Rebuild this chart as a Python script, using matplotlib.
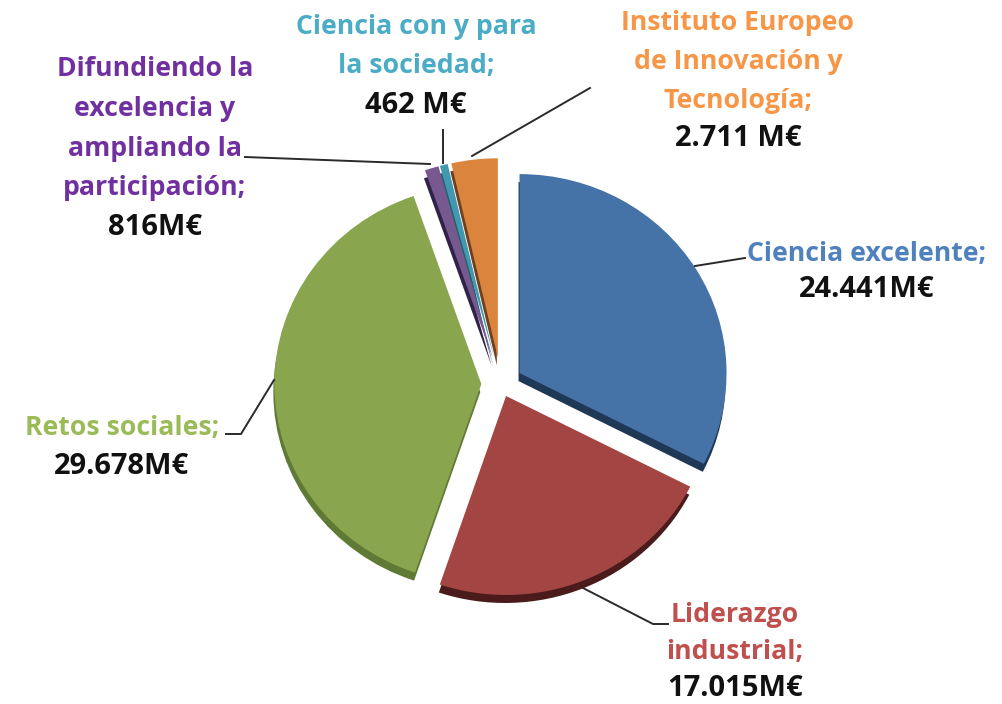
import matplotlib
matplotlib.use("Agg")
import matplotlib.pyplot as plt

names = ["Ciencia excelente", "Liderazgo industrial", "Retos sociales",
         "Difundiendo la excelencia", "Ciencia con y para la sociedad", "Instituto Europeo"]
values = [24441, 17015, 29678, 816, 462, 2711]
top_colors = ["#4572A7", "#A34543", "#89A54E", "#77598F", "#4198AF", "#DB843D"]
side_colors = ["#1F3855", "#4A1B1A", "#5F7A35", "#30234A", "#26606F", "#6E4020"]

W, H = 1003, 704
CX, CY, RX, RY = 501, 384, 207, 199

fig = plt.figure(figsize=(W / 100, H / 100), dpi=100, facecolor="white")
ax = fig.add_axes([0, 0, 1, 1])
explode = [0.105, 0.065, 0.095, 0.135, 0.135, 0.135]
shadow_center = (-1 / RX, -8 / RY)
ax.pie(values, startangle=90, counterclock=False, explode=explode,
       colors=side_colors, center=shadow_center, wedgeprops=dict(linewidth=0))
ax.pie(values, startangle=90, counterclock=False, explode=explode,
       colors=top_colors, center=(0, 0), wedgeprops=dict(linewidth=0))
ax.set_aspect("auto")
ax.set_xlim(-CX / RX, (W - CX) / RX)
ax.set_ylim((CY - H) / RY, CY / RY)
ax.axis("off")


def label(x, y, lines, step=39):
    for i, (txt, col) in enumerate(lines):
        size = 21 if col == K else 19.2
        fig.text(x / W, 1 - (y + 2.5 + i * step) / H, txt, color=col, ha="center", va="center",
                 fontsize=size, fontweight="bold", family="Open Sans")


def leader(xs, ys):
    fig.add_artist(plt.Line2D([x / W for x in xs], [1 - y / H for y in ys],
                              color="#2A2A2A", lw=1.4))


blue, purple, teal, orange, green, red = "#4F81BD", "#7030A0", "#4BACC6", "#F79646", "#9BBB59", "#C0504D"
K = "#111111"
label(867, 251, [("Ciencia excelente;", blue), ("24.441M€", K)], 36)
label(735, 612, [("Liderazgo", red), ("industrial;", red), ("17.015M€", K)], 37)
label(122, 425, [("Retos sociales;", green), ("29.678M€", K)], 39)
label(155, 67, [("Difundiendo la", purple), ("excelencia y", purple), ("ampliando la", purple),
                ("participación;", purple), ("816M€", K)], 39.5)
label(416, 25, [("Ciencia con y para", teal), ("la sociedad;", teal), ("462 M€", K)], 39)
label(738, 21, [("Instituto Europeo", orange), ("de Innovación y", orange), ("Tecnología;", orange),
                ("2.711 M€", K)], 38.5)

leader([745, 695], [258, 266])
leader([668, 653, 583], [624, 624, 588])
leader([226, 241, 274], [434, 434, 380])
leader([245, 430], [157, 164])
leader([443, 443], [130, 163])
leader([590, 472], [88, 156])

fig.savefig("out.png", dpi=100, facecolor="white")
